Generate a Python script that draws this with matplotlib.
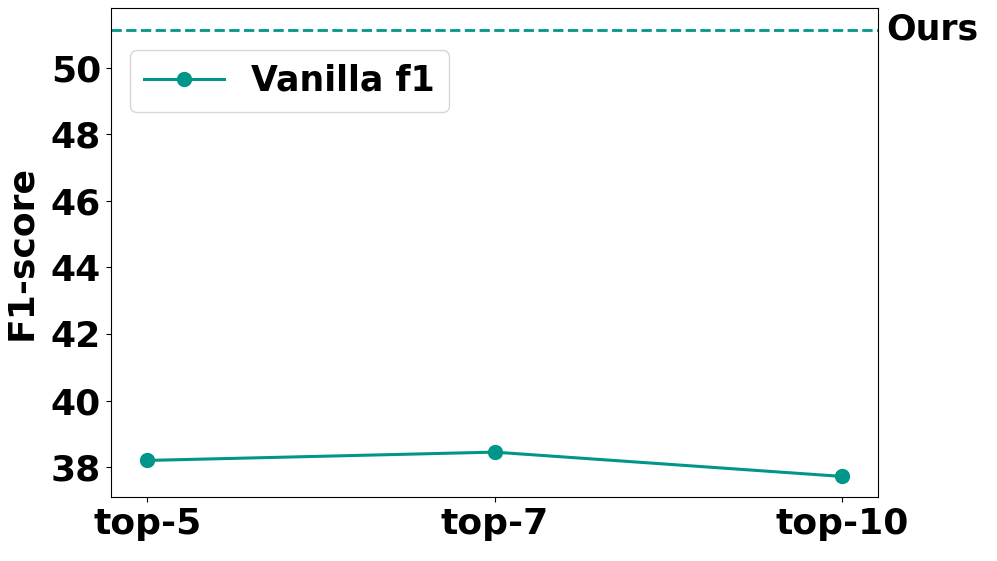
import matplotlib
matplotlib.use("Agg")
import matplotlib.pyplot as plt

# data
categories = ["top-5", "top-7", "top-10"]
vanilla_f1 = [38.2, 38.45, 37.72]
ours_f1 = 51.14

teal = "#00968a"

plt.rcParams['font.family'] = ['DejaVu Sans']
plt.rcParams['font.weight'] = 'bold'

fig = plt.figure(figsize=(9.97, 5.61), dpi=100)
ax = fig.add_axes([0.111, 0.114, 0.770, 0.872])

x = list(range(len(categories)))
ax.plot(x, vanilla_f1, color=teal, linewidth=2.2, marker="o", markersize=10, label="Vanilla f1")
ax.axhline(y=ours_f1, color=teal, linestyle="--", linewidth=2)
ax.text(1.01, ours_f1, "Ours", transform=ax.get_yaxis_transform(),
        fontsize=25, fontweight="bold", va="center", ha="left")

ax.set_xticks(x)
ax.set_xticklabels(categories)
ax.set_xlim(-0.105, 2.105)
ax.set_ylim(37.1, 51.8)
ax.set_yticks([38, 40, 42, 44, 46, 48, 50])
ax.tick_params(labelsize=26)
for lab in ax.get_xticklabels() + ax.get_yticklabels():
    lab.set_fontweight("bold")
ax.set_ylabel("F1-score", fontsize=26, fontweight="bold", labelpad=9)

leg = ax.legend(loc="upper left", bbox_to_anchor=(0.025, 0.914), borderaxespad=0,
                prop={"size": 25, "weight": "bold"}, handlelength=2.3)

fig.savefig("out.png", dpi=100)
